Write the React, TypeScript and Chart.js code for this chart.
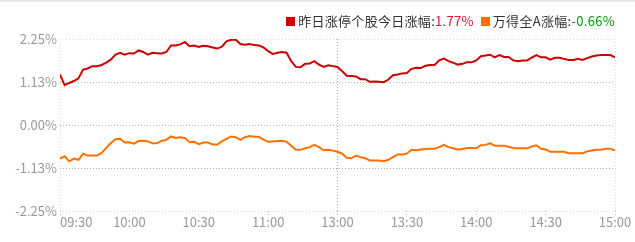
import React, { useEffect, useRef } from 'react';
import { Chart, registerables } from 'chart.js';

Chart.register(...registerables);

// Trading-minute positions of the axis ticks (0 = 09:30, 120 = 11:30/13:00, 240 = 15:00)
const timeTickMinutes = [0, 30, 60, 90, 120, 150, 180, 210, 240];
const timeTickLabels = ['09:30', '10:00', '10:30', '11:00', '13:00', '13:30', '14:00', '14:30', '15:00'];
const sampleStepMinutes = 2;

// 昨日涨停个股今日涨幅 (%), sampled every 2 trading minutes
const limitUpStocks = [
  1.32, 1.04, 1.10, 1.15, 1.22, 1.45, 1.48, 1.54, 1.54, 1.57, 1.63, 1.71, 1.84, 1.89, 1.84, 1.88, 1.87, 1.95, 1.91, 1.84, 1.89,
  1.88, 1.87, 1.91, 2.08, 2.08, 2.11, 2.17, 2.06, 2.08, 2.04, 2.07, 2.06, 2.03, 2.00, 2.05, 2.19, 2.23, 2.23, 2.12, 2.10,
  2.12, 2.09, 2.08, 2.03, 1.93, 1.86, 1.89, 1.91, 1.89, 1.67, 1.52, 1.51, 1.60, 1.61, 1.67, 1.58, 1.52, 1.56, 1.54, 1.52,
  1.41, 1.29, 1.28, 1.27, 1.20, 1.20, 1.13, 1.14, 1.13, 1.12, 1.19, 1.30, 1.32, 1.35, 1.36, 1.47, 1.50, 1.49, 1.55, 1.57,
  1.57, 1.69, 1.74, 1.67, 1.63, 1.58, 1.60, 1.64, 1.64, 1.69, 1.80, 1.82, 1.84, 1.77, 1.83, 1.78, 1.78, 1.69, 1.67, 1.69,
  1.69, 1.76, 1.83, 1.77, 1.77, 1.71, 1.76, 1.76, 1.73, 1.70, 1.70, 1.73, 1.70, 1.75, 1.79, 1.82, 1.83, 1.83, 1.83, 1.77,
];

// 万得全A涨幅 (%), sampled every 2 trading minutes
const windAllA = [
  -0.88, -0.82, -0.95, -0.88, -0.91, -0.75, -0.80, -0.80, -0.80, -0.73, -0.60, -0.47, -0.37, -0.36, -0.46, -0.45, -0.49, -0.42, -0.41, -0.43, -0.48,
  -0.48, -0.41, -0.39, -0.30, -0.34, -0.32, -0.34, -0.45, -0.44, -0.50, -0.46, -0.46, -0.51, -0.51, -0.43, -0.36, -0.30, -0.32, -0.39, -0.32,
  -0.29, -0.31, -0.31, -0.38, -0.44, -0.43, -0.42, -0.41, -0.44, -0.54, -0.65, -0.65, -0.61, -0.58, -0.52, -0.58, -0.66, -0.65, -0.67, -0.70,
  -0.75, -0.86, -0.87, -0.80, -0.84, -0.87, -0.93, -0.93, -0.93, -0.95, -0.91, -0.84, -0.77, -0.77, -0.75, -0.65, -0.66, -0.64, -0.63, -0.62,
  -0.62, -0.58, -0.52, -0.58, -0.61, -0.64, -0.63, -0.60, -0.60, -0.61, -0.53, -0.52, -0.48, -0.54, -0.54, -0.54, -0.57, -0.60, -0.61, -0.61,
  -0.61, -0.56, -0.53, -0.62, -0.64, -0.70, -0.70, -0.70, -0.70, -0.74, -0.74, -0.74, -0.74, -0.69, -0.67, -0.65, -0.65, -0.62, -0.62, -0.66,
];

const yTickValues = [-2.25, -1.125, 0, 1.125, 2.25];
const yTickLabels = ['-2.25%', '-1.13%', '0.00%', '1.13%', '2.25%'];

const legendNames = ['昨日涨停个股今日涨幅', '万得全A涨幅'];
const legendValues = ['1.77%', '-0.66%'];
const seriesColors = ['#cc0000', '#ff7000'];
const legendValueColors = ['#e0102e', '#009a00'];

const FONT = '"Noto Sans CJK SC", "Microsoft YaHei", sans-serif';

export default function App() {
  const canvasRef = useRef<HTMLCanvasElement>(null);

  useEffect(() => {
    if (!canvasRef.current) return;
    const toPoints = (arr: number[]) => arr.map((v, i) => ({ x: i * sampleStepMinutes, y: v }));

    const xLabelPlugin = {
      id: 'xLabels',
      afterDraw(chart: any) {
        const xs = chart.scales.x;
        const ctx = chart.ctx;
        ctx.save();
        ctx.font = `13px ${FONT}`;
        ctx.fillStyle = '#999';
        ctx.textBaseline = 'middle';
        timeTickMinutes.forEach((m, i) => {
          const px = xs.getPixelForValue(m);
          ctx.textAlign = i === 0 ? 'left' : 'center';
          ctx.fillText(timeTickLabels[i], i === 0 ? xs.left : px, 222);
        });
        ctx.restore();
      },
    };

    const chart = new Chart(canvasRef.current, {
      type: 'line',
      data: {
        datasets: [
          {
            label: legendNames[0],
            data: toPoints(limitUpStocks),
            borderColor: seriesColors[0],
            borderWidth: 2,
            pointRadius: 0,
            tension: 0,
          },
          {
            label: legendNames[1],
            data: toPoints(windAllA),
            borderColor: seriesColors[1],
            borderWidth: 2,
            pointRadius: 0,
            tension: 0,
          },
        ],
      },
      options: {
        animation: false,
        responsive: false,
        maintainAspectRatio: false,
        layout: { padding: { top: 39, right: 20, left: 0, bottom: 0 } },
        plugins: {
          legend: { display: false },
          tooltip: { enabled: false },
        },
        scales: {
          x: {
            type: 'linear',
            min: 0,
            max: 240,
            afterBuildTicks: (s: any) => {
              s.ticks = timeTickMinutes.map((v) => ({ value: v }));
            },
            afterFit: (s: any) => {
              s.height = 31;
            },
            ticks: { display: false },
            grid: {
              drawTicks: true,
              tickLength: 5,
              color: (c: any) => {
                const v = c.tick ? c.tick.value : -1;
                if (v === 120) return '#aaaaaa';
                if (v === 0 || v === 240) return '#dddddd';
                return 'rgba(0,0,0,0)';
              },
              tickColor: '#bbbbbb',
              tickBorderDash: [1, 2],
            },
            border: { display: false, dash: [1, 2] },
          },
          y: {
            type: 'linear',
            min: -2.25,
            max: 2.25,
            afterBuildTicks: (s: any) => {
              s.ticks = yTickValues.map((v) => ({ value: v }));
            },
            afterFit: (s: any) => {
              s.width = 60;
            },
            ticks: {
              color: '#999',
              padding: 3,
              font: { family: FONT, size: 13 },
              callback: (_v: any, i: number) => yTickLabels[i],
            },
            grid: {
              drawTicks: false,
              color: (c: any) => {
                const v = c.tick ? c.tick.value : 0;
                return Math.abs(v) > 2 ? '#dddddd' : '#b0b0b0';
              },
            },
            border: { display: false, dash: [1, 2] },
          },
        },
      },
      plugins: [xLabelPlugin],
    } as any);

    return () => chart.destroy();
  }, []);

  return (
    <div
      style={{
        position: 'fixed',
        left: 0,
        top: 0,
        width: 635,
        height: 242,
        background: '#fff',
        overflow: 'hidden',
      }}
    >
      <div style={{ position: 'absolute', left: 0, top: 0, width: 635, height: 2, background: '#e8e8e8' }} />
      <canvas ref={canvasRef} width={635} height={242} style={{ display: 'block', width: 635, height: 242 }} />
      <div
        style={{
          position: 'absolute',
          right: 20,
          top: 12,
          display: 'flex',
          alignItems: 'center',
          fontFamily: FONT,
          fontSize: 13,
          lineHeight: '18px',
          color: '#333',
          whiteSpace: 'nowrap',
          letterSpacing: '0.3px',
        }}
      >
        {legendNames.map((name, i) => (
          <span key={name} style={{ display: 'flex', alignItems: 'center', marginLeft: i === 0 ? 0 : 7 }}>
            <span
              style={{
                display: 'inline-block',
                width: 9,
                height: 9,
                background: seriesColors[i],
                marginRight: 3,
              }}
            />
            <span>{name}:</span>
            <span style={{ color: legendValueColors[i] }}>{legendValues[i]}</span>
          </span>
        ))}
      </div>
    </div>
  );
}
